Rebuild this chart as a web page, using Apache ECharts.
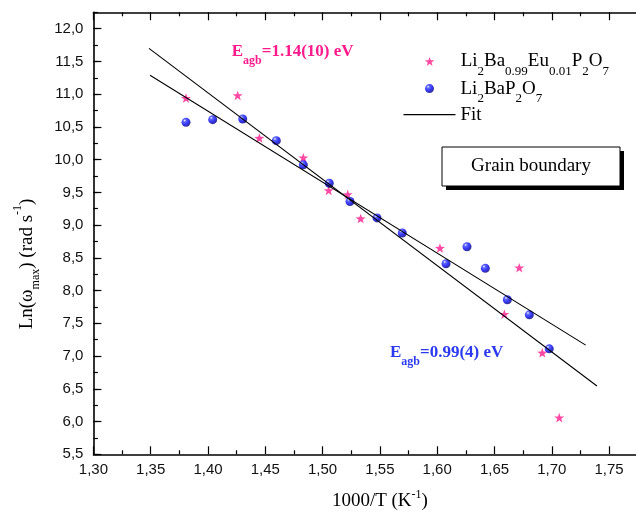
<!DOCTYPE html>
<html>
<head>
<meta charset="utf-8">
<script src="https://cdn.jsdelivr.net/npm/echarts@6/dist/echarts.min.js"></script>
<style>
  html, body { margin: 0; padding: 0; background: #fff; }
  #chart { width: 636px; height: 515px; }
</style>
</head>
<body>
<div id="chart"></div>
<script>
// Axis ranges and tick steps
const xRange = [1.30, 1.80];
const xStep = 0.05;
const yRange = [5.5, 12.25];
const yStep = 0.5;

// Li2Ba0.99Eu0.01P2O7 : 1000/T (K^-1) and ln(omega_max)
const euX = [1.3808, 1.4259, 1.4448, 1.4832, 1.5053, 1.5219, 1.5332, 1.6024, 1.6716, 1.6586, 1.6917, 1.7065];
const euY = [10.94, 10.98, 10.33, 10.03, 9.53, 9.47, 9.10, 8.65, 8.35, 7.64, 7.05, 6.06];

// Li2BaP2O7 : 1000/T (K^-1) and ln(omega_max)
const pureX = [1.3808, 1.4041, 1.4303, 1.4596, 1.4832, 1.5058, 1.5239, 1.5475, 1.5695, 1.6077, 1.6260, 1.6420, 1.6612, 1.6804, 1.6978];
const pureY = [10.57, 10.61, 10.62, 10.29, 9.92, 9.64, 9.36, 9.11, 8.88, 8.41, 8.67, 8.34, 7.86, 7.63, 7.11];

// Linear Arrhenius fits (end points of each line)
const fitEuX = [1.3485, 1.7394];
const fitEuY = [11.70, 6.544];
const fitPureX = [1.3494, 1.7296];
const fitPureY = [11.289, 7.167];

const nameEu = 'Li2Ba0.99Eu0.01P2O7';
const namePure = 'Li2BaP2O7';
const nameFit = 'Fit';

const zip = (xs, ys) => xs.map((x, i) => [x, ys[i]]);
const comma = (v, d) => v.toFixed(d).replace('.', ',');

const serif = 'Liberation Serif, Times New Roman, serif';
const sans = 'Liberation Sans, Arial, sans-serif';
const pink = '#ff1a8c';
const blue = '#2b3af0';

const starPath = 'path://M0,-10 L2.35,-3.24 L9.51,-3.09 L3.8,1.24 L5.88,8.09 L0,4 L-5.88,8.09 L-3.8,1.24 L-9.51,-3.09 L-2.35,-3.24 Z';
const ball = new echarts.graphic.RadialGradient(0.35, 0.3, 0.7, [
  { offset: 0, color: '#ffffff' },
  { offset: 0.22, color: '#3a46ff' },
  { offset: 0.65, color: '#0000f0' },
  { offset: 1, color: '#00007a' }
]);

// rich styles: subscripts sit at the bottom of a tall line box
const legendRich = {
  n: { fontFamily: serif, fontSize: 19, color: '#000', lineHeight: 33 },
  s: { fontFamily: serif, fontSize: 13, color: '#000', lineHeight: 13, verticalAlign: 'bottom' }
};
const legendText = {
  [nameEu]: '{n|Li}{s|2}{n|Ba}{s|0.99}{n|Eu}{s|0.01}{n|P}{s|2}{n|O}{s|7}',
  [namePure]: '{n|Li}{s|2}{n|BaP}{s|2}{n|O}{s|7}',
  [nameFit]: '{n|Fit}'
};

// one legend box per entry so each row can be placed on its own
function legendEntry(item, left, top, extra) {
  return Object.assign({
    orient: 'vertical',
    left: left,
    top: top,
    padding: 0,
    itemWidth: 52,
    itemHeight: 9,
    selectedMode: false,
    data: [item],
    formatter: name => legendText[name],
    textStyle: { fontFamily: serif, fontSize: 19, color: '#000', rich: legendRich }
  }, extra || {});
}

const chart = echarts.init(document.getElementById('chart'), null, { renderer: 'canvas' });

const xBase = {
  type: 'value',
  min: xRange[0],
  max: xRange[1],
  interval: xStep,
  splitLine: { show: false },
  axisLine: { show: true, onZero: false, lineStyle: { color: '#000', width: 1.6 } },
  axisTick: { show: true, inside: true, length: 8, lineStyle: { color: '#000', width: 1.2 } },
  minorTick: { show: true, splitNumber: 2, length: 4, lineStyle: { color: '#000', width: 1.2 } },
  minorSplitLine: { show: false }
};

chart.setOption({
  animation: false,
  backgroundColor: '#fff',
  grid: {
    left: 93.4,
    top: 12.3,
    width: 573,
    height: 442,
    outerBoundsMode: 'none',
    containLabel: false
  },
  legend: [
    legendEntry(nameEu, 424.9, 51.9),
    legendEntry(namePure, 425, 79.1),
    legendEntry({ name: nameFit, icon: 'path://M0,0 L52,0 L52,1.2 L0,1.2 Z' }, 403.5, 105.1, {
      itemStyle: { color: '#000', borderWidth: 0 }
    })
  ],
  xAxis: [
    Object.assign({}, xBase, {
      position: 'bottom',
      name: '{n|1000/T (K}{p|-1}{n|)}',
      nameLocation: 'middle',
      nameGap: 35,
      nameTextStyle: {
        rich: {
          n: { fontFamily: serif, fontSize: 19, color: '#000', lineHeight: 24 },
          p: { fontFamily: serif, fontSize: 12, color: '#000', lineHeight: 12, verticalAlign: 'top' }
        }
      },
      axisLabel: {
        show: true,
        margin: 8,
        fontFamily: sans,
        fontSize: 15,
        color: '#111',
        formatter: v => comma(v, 2)
      }
    }),
    Object.assign({}, xBase, {
      position: 'top',
      axisLabel: { show: false }
    })
  ],
  yAxis: [
    {
      type: 'value',
      position: 'left',
      min: yRange[0],
      max: yRange[1],
      interval: yStep,
      splitLine: { show: false },
      axisLine: { show: true, onZero: false, lineStyle: { color: '#000', width: 1.6 } },
      axisTick: { show: true, inside: true, length: 8, lineStyle: { color: '#000', width: 1.2 } },
      axisLabel: {
        show: true,
        margin: 10,
        fontFamily: sans,
        fontSize: 15,
        color: '#111',
        showMaxLabel: false,
        formatter: v => comma(v, 1)
      }
    },
    {
      // finer ticks between the labelled ones
      type: 'value',
      position: 'left',
      min: yRange[0],
      max: yRange[1],
      interval: yStep / 2,
      splitLine: { show: false },
      axisLine: { show: false },
      axisTick: { show: true, inside: true, length: 4.5, lineStyle: { color: '#000', width: 1.2 } },
      axisLabel: { show: false }
    }
  ],
  series: [
    {
      name: nameEu,
      type: 'scatter',
      data: zip(euX, euY),
      symbol: starPath,
      symbolKeepAspect: true,
      symbolSize: 10,
      itemStyle: { color: pink },
      z: 3
    },
    {
      name: namePure,
      type: 'scatter',
      data: zip(pureX, pureY),
      symbol: 'circle',
      symbolSize: 9,
      itemStyle: { color: ball },
      z: 3
    },
    {
      name: nameFit,
      type: 'line',
      data: zip(fitEuX, fitEuY),
      symbol: 'none',
      showSymbol: false,
      itemStyle: { color: '#000' },
      lineStyle: { color: '#000', width: 1.1 },
      z: 4
    },
    {
      name: nameFit,
      type: 'line',
      data: zip(fitPureX, fitPureY),
      symbol: 'none',
      showSymbol: false,
      itemStyle: { color: '#000' },
      lineStyle: { color: '#000', width: 1.1 },
      z: 4
    }
  ],
  graphic: [
    {
      // y-axis title
      type: 'text',
      x: 27,
      y: 264,
      rotation: Math.PI / 2,
      style: {
        text: '{n|Ln(\u03c9}{s|max}{n|) (rad s}{p|-1}{n|)}',
        align: 'center',
        verticalAlign: 'middle',
        rich: {
          n: { fontFamily: serif, fontSize: 19, fill: '#000', lineHeight: 30 },
          s: { fontFamily: serif, fontSize: 12, fill: '#000', lineHeight: 12, verticalAlign: 'bottom' },
          p: { fontFamily: serif, fontSize: 12, fill: '#000', lineHeight: 12, verticalAlign: 'top' }
        }
      }
    },
    {
      type: 'text',
      x: 231.7,
      y: 52,
      style: {
        text: '{e|E}{s|agb}{e|=1.14(10) eV}',
        align: 'left',
        verticalAlign: 'middle',
        rich: {
          e: { fontFamily: serif, fontWeight: 'bold', fontSize: 17, fill: pink, lineHeight: 29 },
          s: { fontFamily: serif, fontWeight: 'bold', fontSize: 12, fill: pink, lineHeight: 12, verticalAlign: 'bottom' }
        }
      }
    },
    {
      type: 'text',
      x: 390,
      y: 353,
      style: {
        text: '{e|E}{s|agb}{e|=0.99(4) eV}',
        align: 'left',
        verticalAlign: 'middle',
        rich: {
          e: { fontFamily: serif, fontWeight: 'bold', fontSize: 17, fill: blue, lineHeight: 29 },
          s: { fontFamily: serif, fontWeight: 'bold', fontSize: 12, fill: blue, lineHeight: 12, verticalAlign: 'bottom' }
        }
      }
    },
    {
      // framed caption with a drop shadow
      type: 'group',
      children: [
        { type: 'rect', shape: { x: 446, y: 151, width: 178, height: 39 }, style: { fill: '#000' } },
        { type: 'rect', shape: { x: 442, y: 147, width: 178, height: 39 }, style: { fill: '#fff', stroke: '#000', lineWidth: 1 } },
        {
          type: 'text',
          x: 531,
          y: 166.5,
          style: { text: 'Grain boundary', font: '19px ' + serif, fill: '#000', align: 'center', verticalAlign: 'middle' }
        }
      ]
    }
  ]
});
</script>
</body>
</html>
